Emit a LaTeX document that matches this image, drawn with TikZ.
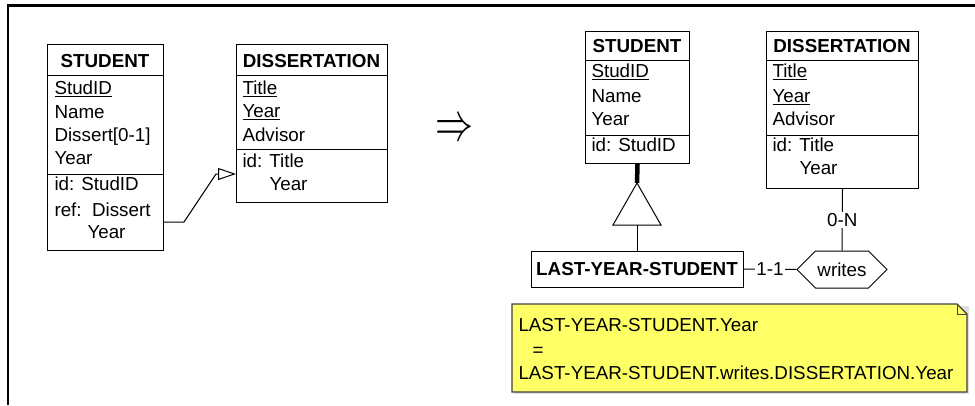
\documentclass[tikz,border=0pt]{standalone}
\usepackage{fontspec}
\usepackage{graphicx}
\setmainfont{Liberation Sans}
\usetikzlibrary{arrows.meta,shapes.symbols}
\definecolor{notefill}{HTML}{FFFF66}
\definecolor{noteline}{HTML}{404040}
\newcommand{\diafont}{\fontsize{18.8}{22}\selectfont}
\begin{document}
\begin{tikzpicture}[x=1pt,y=-1pt,
  every node/.style={inner sep=0pt, font=\diafont},
  line width=1pt,
  box/.style={draw, anchor=north west},
  ttl/.style={anchor=base, font=\diafont\bfseries},
  att/.style={anchor=base west},
  card/.style={fill=white, inner sep=1.5pt},
]
\useasboundingbox (0,0) rectangle (975,405);

% outer frame
\draw[line width=2.5pt] (8,405) -- (8,5.5) -- (975,5.5);

% ---- source schema: STUDENT
\node[box, minimum width=116pt, minimum height=206pt] (ls) at (47,44) {};
\draw (47,75) -- (163,75);
\draw (47,174) -- (163,174);
\node[ttl] (lsT) at (105,67.5) {STUDENT};
\node[att] (ls1) at (54,94.5) {\underline{StudID}};
\node[att] (ls2) at (54,118.5) {Name};
\node[att] (ls3) at (54,141.5) {Dissert[0-1]};
\node[att] (ls4) at (54,164.5) {Year};
\node[att] (ls5) at (54,190.5) {id: StudID};
\node[att] (ls6) at (54,216.5) {ref:\ \ Dissert};
\node[att] (ls7) at (87,238.5) {Year};

% ---- source schema: DISSERTATION
\node[box, minimum width=151pt, minimum height=158pt] (ld) at (236,44) {};
\draw (236,75) -- (387,75);
\draw (236,149) -- (387,149);
\node[ttl] (ldT) at (311.5,67.5) {DISSERTATION};
\node[att] (ld1) at (242,94.5) {\underline{Title}};
\node[att] (ld2) at (242,117.5) {\underline{Year}};
\node[att] (ld3) at (242,141.5) {Advisor};
\node[att] (ld4) at (242,167.5) {id: Title};
\node[att] (ld5) at (269,190.5) {Year};

% reference constraint
\coordinate (rb) at (184,222);
\coordinate (ra) at (216,174);
\draw[-{Triangle[open, length=18pt, width=12pt]}] (ls.east |- rb) -- (rb) -- (ra) -- (ld.west |- ra);

% transformation sign
\node (imp) at (454,130) {\resizebox{38pt}{20pt}{$\Rightarrow$}};

% ---- target schema: STUDENT
\node[box, minimum width=104pt, minimum height=132pt] (rs) at (585,31) {};
\draw (585,60) -- (689,60);
\draw (585,135) -- (689,135);
\node[ttl] (rsT) at (637,52.5) {STUDENT};
\node[att] (rs1) at (591,77.5) {\underline{StudID}};
\node[att] (rs2) at (591,102.5) {Name};
\node[att] (rs3) at (591,125.5) {Year};
\node[att] (rs4) at (591,151.5) {id: StudID};

% ---- target schema: DISSERTATION
\node[box, minimum width=152pt, minimum height=157pt] (rd) at (766,31) {};
\draw (766,60) -- (918,60);
\draw (766,135) -- (918,135);
\node[ttl] (rdT) at (842,52.5) {DISSERTATION};
\node[att] (rd1) at (772,77.5) {\underline{Title}};
\node[att] (rd2) at (772,102.5) {\underline{Year}};
\node[att] (rd3) at (772,125.5) {Advisor};
\node[att] (rd4) at (772,151.5) {id: Title};
\node[att] (rd5) at (799,174.5) {Year};

% subtype
\node[draw, minimum width=212pt, minimum height=36pt,
      font=\diafont\bfseries] (lys) at (637,269) {LAST-YEAR-STUDENT};

% is-a triangle
\coordinate (gapex) at (637,183);
\coordinate (gl) at (613,225);
\coordinate (gr) at (661,225);
\coordinate (gbase) at (637,225);
\draw[line width=4.5pt] (rs.south) -- (gapex);
\draw (gapex) -- (gl) -- (gr) -- cycle;
\draw (gbase) -- (lys.north);

% relationship type
\node[draw, shape=signal, signal to=west and east, signal pointer angle=90,
      minimum width=90pt, minimum height=37pt] (wr) at (842,269.5) {writes};
\draw (lys.east) -- node[card] (c11) {1-1} (wr.west);
\draw (rd.south) -- node[card] (c0n) {0-N} (wr.north);

% constraint note with its faint shadow
\fill[gray!25] (514,306) -- (969,306) -- (969,394) -- (514,394) -- cycle;
\filldraw[fill=notefill, draw=noteline, line width=1.3pt]
  (512,304) -- (957,304) -- (967,314) -- (967,392) -- (512,392) -- cycle;
\draw[noteline, line width=1pt] (957,304) -- (957,314) -- (967,314);
\node[att] (n1) at (518,331.5) {LAST-YEAR-STUDENT.Year};
\node[anchor=base] (n2) at (538,356) {=};
\node[att] (n3) at (518,379.5) {LAST-YEAR-STUDENT.writes.DISSERTATION.Year};
\end{tikzpicture}
\end{document}
